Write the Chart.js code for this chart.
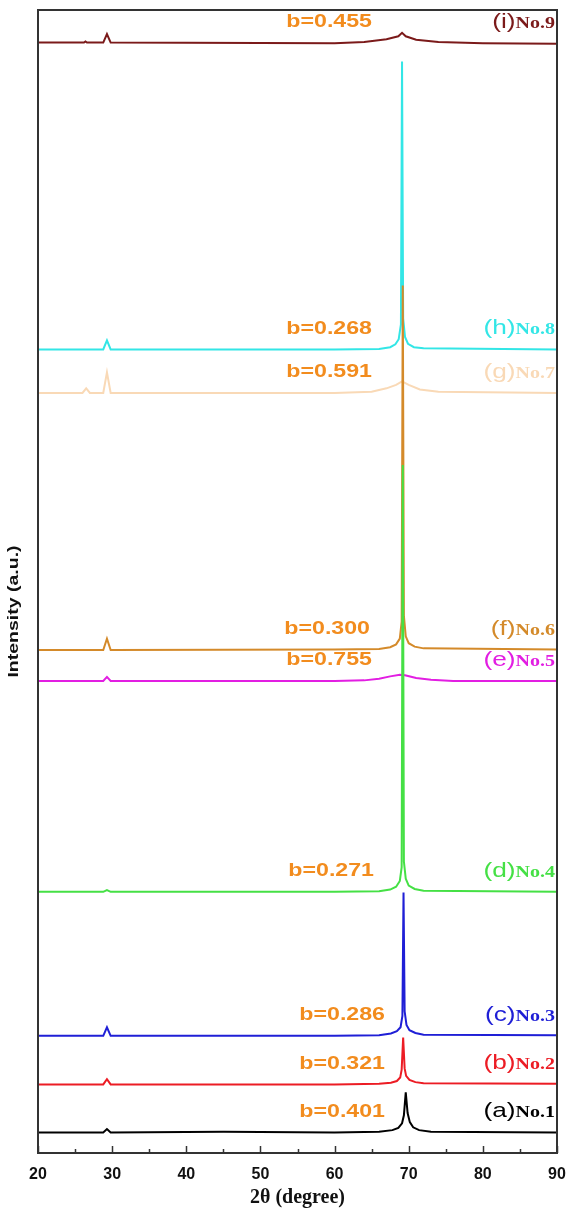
<!DOCTYPE html>
<html>
<head>
<meta charset="utf-8">
<script src="https://cdn.jsdelivr.net/npm/chart.js@4"></script>
<style>
  html, body { margin: 0; padding: 0; background: #fff; }
  #wrap { width: 572px; height: 1211px; }
</style>
</head>
<body>
<div id="wrap"><canvas id="xrdChart"></canvas></div>
<script>
// sample tags, names and fitted b values (bottom to top)
const sampleTags = ['(a)', '(b)', '(c)', '(d)', '(e)', '(f)', '(g)', '(h)', '(i)'];
const sampleNames = ['No.1', 'No.2', 'No.3', 'No.4', 'No.5', 'No.6', 'No.7', 'No.8', 'No.9'];
const bValues = ['b=0.401', 'b=0.321', 'b=0.286', 'b=0.271', 'b=0.755', 'b=0.300', 'b=0.591', 'b=0.268', 'b=0.455'];
const xTicks = [20, 30, 40, 50, 60, 70, 80, 90];

// stacked patterns, [2theta, intensity (a.u., offset included)]
const seriesA = [[20,1.8],[28.8,1.8],[29.3,2.1],[29.8,1.8],[45,1.85],[60,1.8],[66,1.85],[67.8,2.0],[68.6,2.2],[69.1,2.6],[69.35,3.3],[69.6,5.3],[69.85,3.5],[70.15,2.7],[70.6,2.25],[71.4,2.0],[73,1.85],[90,1.8]];
const seriesB = [[20,6.0],[28.8,6.0],[29.3,6.45],[29.8,6.0],[60,6.0],[66,6.05],[67.6,6.15],[68.4,6.3],[68.85,6.6],[69.05,7.3],[69.25,10.1],[69.45,7.4],[69.65,6.75],[70.1,6.4],[70.9,6.2],[72,6.1],[90,6.05]];
const seriesC = [[20,10.25],[28.8,10.25],[29.3,11.0],[29.8,10.25],[60,10.25],[66,10.3],[67.6,10.45],[68.4,10.65],[68.9,11.0],[69.15,12.0],[69.3,22.8],[69.45,12.4],[69.7,11.2],[70.1,10.75],[70.9,10.5],[72,10.35],[90,10.3]];
const seriesD = [[20,22.85],[28.8,22.85],[29.3,23.0],[29.8,22.85],[60,22.85],[66,22.9],[67.5,23.05],[68.3,23.3],[68.8,23.8],[69.05,25.0],[69.2,60.2],[69.35,25.5],[69.6,24.0],[70.0,23.4],[70.8,23.1],[72,22.95],[90,22.85]];
const seriesE = [[20,41.3],[28.8,41.3],[29.3,41.65],[29.8,41.3],[60,41.3],[64,41.35],[66,41.5],[67.5,41.7],[68.8,41.85],[69.5,41.8],[71,41.55],[73,41.4],[76,41.3],[90,41.3]];
const seriesF = [[20,44.0],[28.8,44.0],[29.3,45.0],[29.8,44.0],[60,44.05],[66,44.1],[67.5,44.25],[68.3,44.5],[68.8,45.0],[69.05,46.5],[69.2,75.9],[69.35,47.0],[69.6,45.2],[70.0,44.6],[70.8,44.3],[72,44.15],[90,44.05]];
const seriesG = [[20,66.5],[26.0,66.5],[26.5,66.9],[27.0,66.5],[28.8,66.5],[29.3,68.3],[29.8,66.5],[60,66.5],[65,66.6],[67,66.9],[68.3,67.2],[69.1,67.5],[70,67.2],[71.5,66.8],[74,66.6],[90,66.5]];
const seriesH = [[20,70.3],[28.8,70.3],[29.3,71.1],[29.8,70.3],[60,70.3],[66,70.35],[67.5,70.5],[68.2,70.75],[68.65,71.2],[68.95,72.5],[69.1,95.5],[69.25,73.0],[69.5,71.4],[69.9,70.8],[70.7,70.5],[72,70.4],[90,70.3]];
const seriesI = [[20,97.15],[26.2,97.15],[26.4,97.25],[26.6,97.15],[28.8,97.15],[29.3,97.9],[29.8,97.15],[60,97.1],[64,97.2],[67,97.45],[68.6,97.7],[69.1,98.0],[69.6,97.7],[71,97.4],[74,97.2],[80,97.1],[90,97.05]];

const allSeries = [seriesA, seriesB, seriesC, seriesD, seriesE, seriesF, seriesG, seriesH, seriesI];
const colors = ['#000000', '#ec1c24', '#1f1fd6', '#45e045', '#e21ee2', '#d48a2a', '#f9d9b6', '#33e6e6', '#7b1a1a'];
// right edge of the b= labels, px
const bRight = [385, 385, 385, 374, 372, 370, 372, 372, 372];

const toXY = s => s.map(p => ({ x: p[0], y: p[1] }));

const textPlugin = {
  id: 'xrdText',
  afterDraw(chart) {
    const ctx = chart.ctx;
    const area = chart.chartArea;
    const xs = chart.scales.x;
    const ys = chart.scales.y;
    ctx.save();

    // frame
    ctx.strokeStyle = '#333';
    ctx.lineWidth = 2;
    ctx.strokeRect(area.left, area.top, area.right - area.left, area.bottom - area.top);

    // inward ticks on the bottom axis
    ctx.lineWidth = 1.5;
    for (let v = 20; v <= 90; v += 5) {
      const px = Math.round(xs.getPixelForValue(v)) + 0.5;
      const len = v % 10 === 0 ? 7 : 4;
      ctx.beginPath();
      ctx.moveTo(px, area.bottom);
      ctx.lineTo(px, area.bottom - len);
      ctx.stroke();
    }

    // labels on each pattern
    allSeries.forEach((s, i) => {
      const base = ys.getPixelForValue(s[0][1]);
      // b value
      ctx.save();
      ctx.fillStyle = '#f28c1e';
      ctx.font = 'bold 19px "Liberation Sans", Arial, sans-serif';
      ctx.textAlign = 'right';
      ctx.textBaseline = 'middle';
      ctx.translate(bRight[i], base - 21);
      ctx.scale(1.22, 1);
      ctx.fillText(bValues[i], 0, 0);
      ctx.restore();

      // (x)No.n
      const sx = 1.25;
      ctx.save();
      ctx.fillStyle = colors[i];
      ctx.textBaseline = 'alphabetic';
      ctx.font = 'bold 16px "Liberation Serif", "Times New Roman", serif';
      const wName = ctx.measureText(sampleNames[i]).width * sx;
      ctx.font = '21px "Liberation Sans", Arial, sans-serif';
      const wTag = ctx.measureText(sampleTags[i]).width * sx;
      const right = 555;
      const yb = base - 15;
      ctx.save();
      ctx.translate(right - wName - wTag, yb);
      ctx.scale(sx, 1);
      ctx.fillText(sampleTags[i], 0, 0);
      ctx.restore();
      ctx.font = 'bold 16px "Liberation Serif", "Times New Roman", serif';
      ctx.translate(right - wName, yb);
      ctx.scale(sx, 1);
      ctx.fillText(sampleNames[i], 0, 0);
      ctx.restore();
    });

    // axis titles
    ctx.fillStyle = '#111';
    ctx.textAlign = 'center';
    ctx.textBaseline = 'middle';
    ctx.font = 'bold 20px "Liberation Serif", "Times New Roman", serif';
    ctx.fillText('2θ (degree)', (area.left + area.right) / 2, 1198);

    ctx.save();
    ctx.translate(14, (area.top + area.bottom) / 2 + 30);
    ctx.rotate(-Math.PI / 2);
    ctx.scale(1.3, 1);
    ctx.font = 'bold 15px "Liberation Sans", Arial, sans-serif';
    ctx.fillText('Intensity (a.u.)', 0, 0);
    ctx.restore();

    ctx.restore();
  }
};

const ctx = document.getElementById('xrdChart').getContext('2d');
new Chart(ctx, {
  type: 'scatter',
  data: {
    datasets: allSeries.map((s, i) => ({
      label: sampleTags[i] + sampleNames[i],
      data: toXY(s),
      showLine: true,
      borderColor: colors[i],
      backgroundColor: colors[i],
      borderWidth: 2,
      pointRadius: 0,
      tension: 0
    }))
  },
  options: {
    responsive: true,
    maintainAspectRatio: false,
    animation: false,
    layout: { padding: { left: 38, right: 15, top: 10, bottom: 0 } },
    plugins: {
      legend: { display: false },
      tooltip: { enabled: false }
    },
    scales: {
      x: {
        type: 'linear',
        min: 20,
        max: 90,
        afterBuildTicks: s => { s.ticks = xTicks.map(v => ({ value: v })); },
        afterFit: s => { s.height = 58; s.paddingLeft = 0; s.paddingRight = 0; },
        grid: { display: false, drawTicks: false },
        border: { display: false },
        ticks: {
          padding: 12,
          color: '#111',
          font: { family: '"Liberation Sans", Arial, sans-serif', size: 16, weight: 'bold' }
        }
      },
      y: {
        type: 'linear',
        min: 0,
        max: 100,
        display: false
      }
    }
  },
  plugins: [textPlugin]
});
</script>
</body>
</html>
